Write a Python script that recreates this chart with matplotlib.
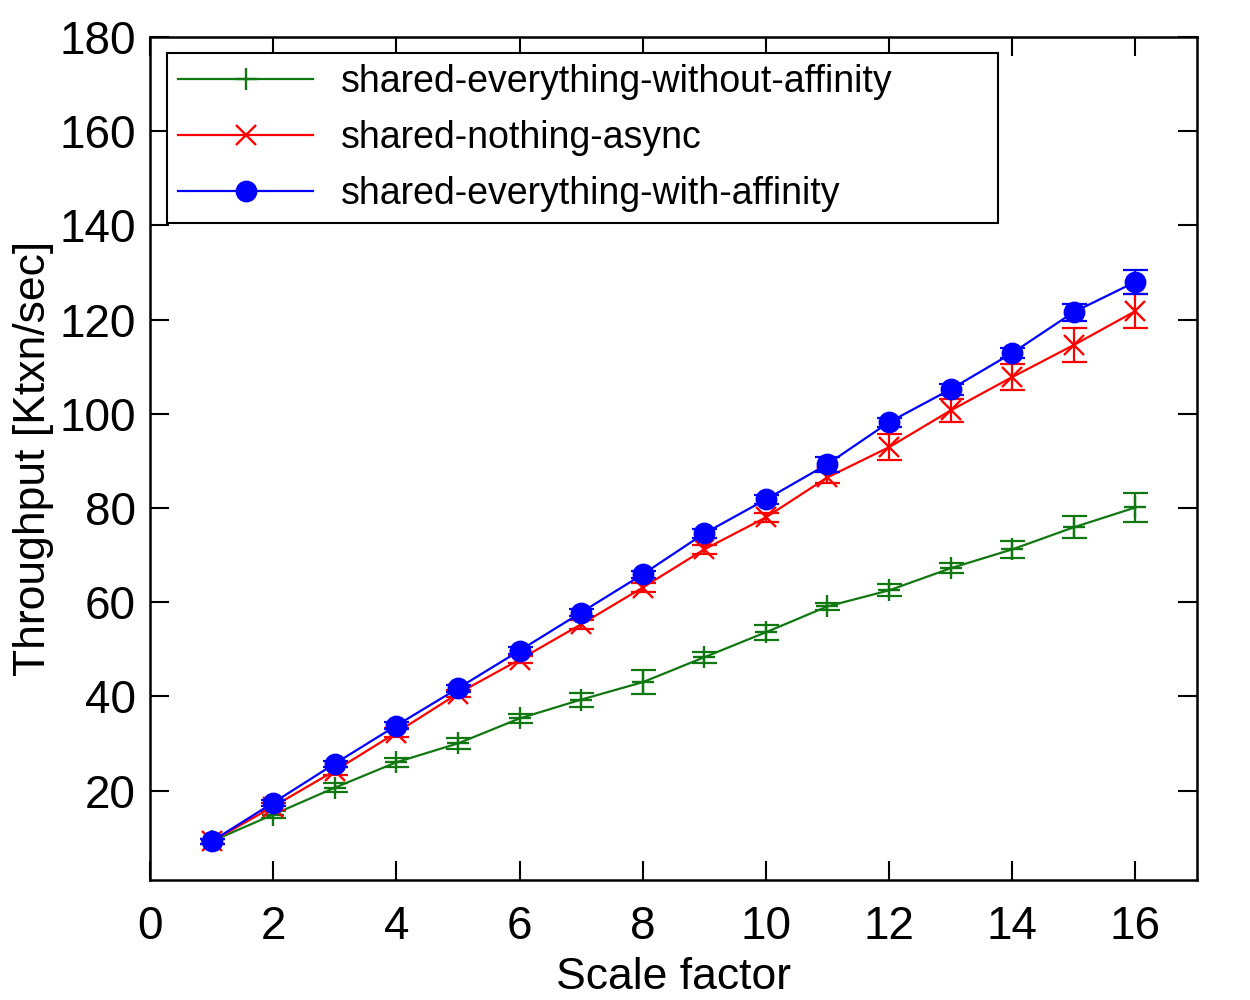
import matplotlib.pyplot as plt
from matplotlib.lines import Line2D

plt.rcParams['font.family'] = ['Liberation Sans', 'DejaVu Sans']

scale = [1, 2, 3, 4, 5, 6, 7, 8, 9, 10, 11, 12, 13, 14, 15, 16]

without_aff = [9.2, 14.9, 20.6, 26.0, 30.0, 35.3, 39.3, 43.0, 48.3, 53.6, 59.1, 62.5, 67.2, 71.2, 75.9, 80.1]
without_aff_err = [0.6, 0.8, 1.0, 1.0, 1.2, 1.0, 1.5, 2.5, 1.2, 1.6, 0.8, 1.3, 1.1, 1.8, 2.3, 3.0]

nothing_async = [9.2, 16.6, 24.2, 32.3, 40.6, 47.8, 55.3, 63.1, 71.2, 78.0, 86.5, 92.9, 100.7, 107.8, 114.6, 121.8]
nothing_async_err = [0.6, 0.8, 0.9, 0.9, 0.8, 0.8, 1.0, 1.0, 0.9, 1.0, 1.2, 2.7, 2.4, 2.8, 3.6, 3.6]

with_aff = [9.2, 17.4, 25.7, 33.8, 41.7, 49.7, 57.8, 65.9, 74.6, 81.8, 89.3, 98.2, 105.2, 112.9, 121.6, 128.0]
with_aff_err = [0.5, 0.6, 0.6, 0.7, 0.7, 0.7, 0.8, 0.8, 0.9, 1.0, 1.6, 1.0, 1.2, 1.0, 1.8, 2.5]

series = [
    ("shared-everything-without-affinity", without_aff, without_aff_err, "#117711", "+", 16),
    ("shared-nothing-async", nothing_async, nothing_async_err, "#ff0000", "x", 14),
    ("shared-everything-with-affinity", with_aff, with_aff_err, "#0000ff", "o", 14),
]

fig = plt.figure(figsize=(12.5, 10), dpi=100)
ax = fig.add_axes([0.12, 0.12, 0.8376, 0.843])

handles = []
for name, vals, errs, col, mk, ms in series:
    ax.errorbar(scale, vals, yerr=errs, fmt='none', ecolor=col, elinewidth=1.6,
                capsize=9, capthick=1.6)
    ax.plot(scale, vals, color=col, lw=1.6, marker=mk, ms=ms, mew=1.7)
    handles.append(Line2D([], [], color=col, lw=1.6, marker=mk, ms=ms, mew=1.7, label=name))

ax.set_xlim(0, 17)
ax.set_ylim(1, 180)
ax.set_xticks(range(0, 17, 2))
ax.set_yticks(range(20, 181, 20))
ax.tick_params(direction='in', length=14, width=1.5, top=True, right=True,
               labelsize=33, pad=10)
ax.tick_params(axis='x', pad=18)
for s in ax.spines.values():
    s.set_linewidth(1.8)

ax.set_xlabel("Scale factor", fontsize=32, labelpad=6)
ax.set_ylabel("Throughput [Ktxn/sec]", fontsize=32, labelpad=4)

leg = ax.legend(handles=handles, loc='upper left', bbox_to_anchor=(0.016, 0.0, 0.794, 0.981),
                mode='expand', fontsize=27, numpoints=1, handlelength=3.6,
                handletextpad=0.75, borderpad=0.3, labelspacing=0.53,
                fancybox=False, framealpha=1, edgecolor='black', borderaxespad=0)
leg.get_frame().set_linewidth(1.5)

fig.savefig("out.png", dpi=100)
